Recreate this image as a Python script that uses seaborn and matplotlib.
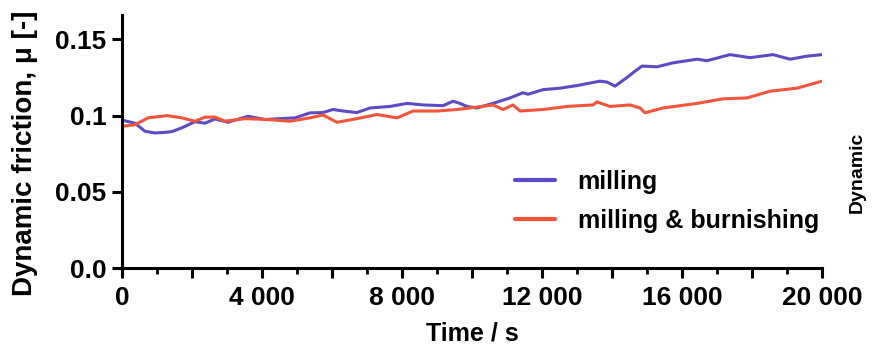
import numpy as np
import pandas as pd
import matplotlib
matplotlib.use("Agg")
import matplotlib.pyplot as plt
from matplotlib.ticker import FixedLocator, FixedFormatter, MultipleLocator
from matplotlib.lines import Line2D
import seaborn as sns

# ---- data ----
milling_time = [0, 371, 657, 943, 1229, 1429, 1714, 2086, 2371, 2657, 3029, 3600, 4086,
                4514, 4943, 5371, 5743, 6029, 6314, 6714, 7086, 7657, 8143, 8600, 9171,
                9457, 9657, 9857, 10143, 10600, 11086, 11457, 11600, 12029, 12514, 13000,
                13657, 13857, 14086, 14429, 14650, 14857, 15286, 15743, 16429, 16714,
                17371, 17943, 18600, 19086, 19571, 20000]
milling_mu = [0.097, 0.095, 0.0897, 0.0886, 0.089, 0.0895, 0.092, 0.096, 0.095, 0.0978,
              0.0956, 0.0996, 0.0974, 0.098, 0.0985, 0.1018, 0.102, 0.104, 0.103, 0.102,
              0.105, 0.106, 0.108, 0.107, 0.1065, 0.1094, 0.108, 0.106, 0.105, 0.108,
              0.1116, 0.115, 0.114, 0.117, 0.118, 0.1197, 0.1226, 0.122, 0.1193, 0.125,
              0.129, 0.1325, 0.132, 0.1346, 0.137, 0.136, 0.140, 0.138, 0.140, 0.137,
              0.139, 0.140]

burn_time = [0, 371, 743, 1286, 1714, 2086, 2371, 2657, 2943, 3514, 4086, 4800, 5371,
             5743, 6143, 6714, 7286, 7857, 8314, 9000, 9571, 9943, 10600, 10886, 11171,
             11371, 12029, 12714, 13457, 13571, 13943, 14514, 14800, 14943, 15457, 16429,
             17171, 17857, 18514, 19286, 20000]
burn_mu = [0.093, 0.094, 0.0985, 0.100, 0.0985, 0.0963, 0.099, 0.099, 0.0963, 0.098,
           0.0975, 0.0963, 0.0985, 0.1004, 0.0956, 0.098, 0.1007, 0.0985, 0.103, 0.103,
           0.104, 0.105, 0.107, 0.104, 0.107, 0.103, 0.104, 0.106, 0.107, 0.109, 0.106,
           0.107, 0.105, 0.1018, 0.105, 0.108, 0.111, 0.1116, 0.116, 0.118, 0.1226]

series_names = ["milling", "milling & burnishing"]
series_colors = ["#5B4CC6", "#F2553A"]

y_ticks = [0.0, 0.05, 0.1, 0.15]
y_tick_labels = ["0.0", "0.05", "0.1", "0.15"]
x_ticks = [0, 2000, 4000, 6000, 8000, 10000, 12000, 14000, 16000, 18000, 20000]
x_tick_labels = ["0", "", "4 000", "", "8 000", "", "12 000", "", "16 000", "", "20 000"]

# ---- build long table ----
df = pd.concat([
    pd.DataFrame({"Time": milling_time, "mu": milling_mu, "series": series_names[0]}),
    pd.DataFrame({"Time": burn_time, "mu": burn_mu, "series": series_names[1]}),
], ignore_index=True)

sns.set_style("ticks")
plt.rcParams["font.family"] = ["Liberation Sans", "DejaVu Sans"]
plt.rcParams["font.weight"] = "bold"
plt.rcParams["text.color"] = "black"
plt.rcParams["axes.labelcolor"] = "black"

W, H = 874, 359
fig = plt.figure(figsize=(W / 100, H / 100), dpi=100)
fig.patch.set_facecolor("white")
ax = fig.add_axes([122 / W, 1 - 268 / H, 700 / W, 253 / H])

palette = dict(zip(series_names, series_colors))
sns.lineplot(data=df, x="Time", y="mu", hue="series", palette=palette,
             linewidth=2.2, ax=ax, legend=False, estimator=None, sort=False)

ax.set_xlim(0, 20000)
ax.set_ylim(0, 0.166)

for s in ["top", "right"]:
    ax.spines[s].set_visible(False)
for s in ["left", "bottom"]:
    ax.spines[s].set_linewidth(2.2)
    ax.spines[s].set_color("black")

ax.yaxis.set_major_locator(FixedLocator(y_ticks))
ax.yaxis.set_major_formatter(FixedFormatter(y_tick_labels))
ax.xaxis.set_major_locator(FixedLocator(x_ticks))
ax.xaxis.set_major_formatter(FixedFormatter(x_tick_labels))
ax.xaxis.set_minor_locator(MultipleLocator(1000))

ax.tick_params(axis="both", which="major", direction="out", length=7, width=2.2,
               color="black", labelsize=19, labelcolor="black")
ax.tick_params(axis="y", pad=4)
ax.tick_params(axis="x", pad=6)
ax.tick_params(axis="x", which="minor", direction="out", length=4, width=2.0, color="black")
for lbl in ax.get_xticklabels() + ax.get_yticklabels():
    lbl.set_fontweight("bold")

ax.set_xlabel("Time / s", fontsize=18, fontweight="bold", labelpad=8, color="black")
ax.set_ylabel("Dynamic friction, \u03bc [-]", fontsize=20, fontweight="bold", color="black")
ax.yaxis.set_label_coords((38 - 122) / 700, (268 - 153) / 253)

handles = [Line2D([0], [0], color=c, lw=3) for c in series_colors]
leg = ax.legend(handles, series_names, loc="upper left",
                bbox_to_anchor=(515 / W, 1 - 170 / H), bbox_transform=fig.transFigure,
                frameon=False, fontsize=18, handlelength=1.6, handletextpad=0.9,
                labelspacing=0.6, borderpad=0, borderaxespad=0)
for t in leg.get_texts():
    t.set_fontweight("bold")
    t.set_color("black")

fig.text(857 / W, 1 - 172 / H, "Dynamic", rotation=90, ha="center", va="center",
         fontsize=14, fontweight="bold", color="black")

fig.savefig("out.png", dpi=100, facecolor="white")
